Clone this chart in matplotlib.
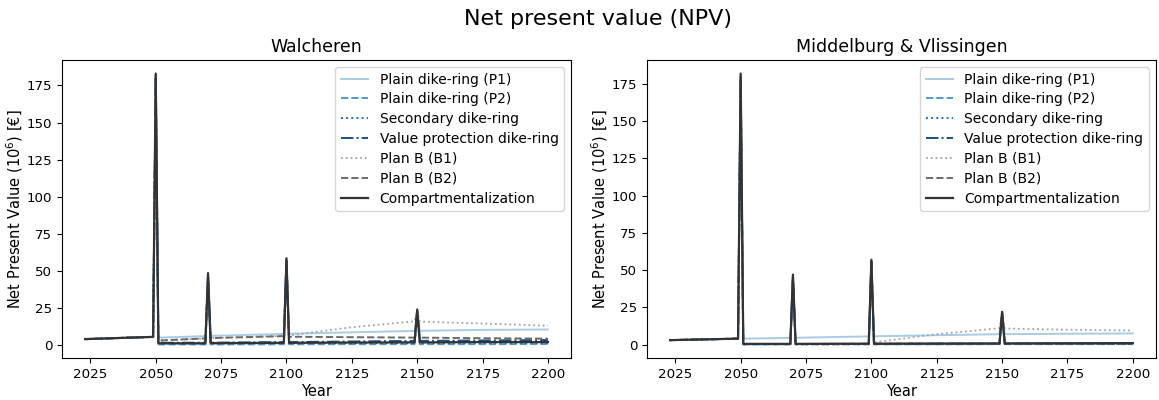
import numpy as np
import matplotlib
matplotlib.use("Agg")
import matplotlib.pyplot as plt

# Stuetzjahre der Zeitreihen (Jahreswerte, Spitzen in Investitionsjahren)
years = [2023, 2049, 2050, 2051, 2069, 2070, 2071, 2099, 2100, 2101,
         2125, 2149, 2150, 2151, 2175, 2200]

labels = ["Plain dike-ring (P1)", "Plain dike-ring (P2)", "Secondary dike-ring",
          "Value protection dike-ring", "Plan B (B1)", "Plan B (B2)",
          "Compartmentalization"]

# Walcheren
w_p1 = [4.0, 5.5, 180, 5.0, 6.0, 46, 6.2, 7.5, 56, 7.6, 8.6, 9.5, 22, 9.6, 10.2, 10.5]
w_p2 = [4.0, 5.5, 178, 0.4, 0.4, 45, 0.4, 0.5, 55, 0.5, 0.6, 0.6, 21, 0.6, 0.6, 0.7]
w_sec = [4.0, 5.5, 179, 1.0, 1.0, 46, 1.0, 1.2, 56, 1.2, 1.3, 1.4, 22, 1.4, 1.5, 1.5]
w_val = [4.0, 5.5, 181, 1.5, 1.6, 47, 1.6, 2.0, 57, 2.0, 2.4, 2.8, 23, 2.8, 3.1, 3.4]
w_b1 = [4.0, 5.5, 182, 3.0, 4.5, 47, 4.7, 6.2, 57, 6.5, 12.0, 16.0, 23, 15.8, 14.5, 13.0]
w_b2 = [4.0, 5.5, 182, 3.0, 4.5, 47, 4.7, 6.0, 57, 5.6, 5.3, 5.0, 23, 5.0, 4.6, 4.3]
w_comp = [4.0, 5.5, 183, 1.2, 1.2, 48.5, 1.3, 1.5, 58.5, 1.5, 1.7, 1.8, 24, 1.8, 2.0, 2.0]

# Middelburg & Vlissingen
m_p1 = [3.0, 4.0, 178, 4.0, 4.5, 45, 4.6, 5.5, 55, 5.6, 6.3, 7.0, 21, 7.0, 7.3, 7.5]
m_p2 = [3.0, 4.0, 177, 0.1, 0.1, 44, 0.1, 0.2, 54, 0.2, 0.2, 0.3, 20, 0.3, 0.3, 0.3]
m_sec = [3.0, 4.0, 178, 0.2, 0.2, 45, 0.2, 0.3, 55, 0.3, 0.3, 0.4, 21, 0.4, 0.4, 0.4]
m_val = [3.0, 4.0, 179, 0.4, 0.4, 46, 0.4, 0.5, 56, 0.5, 0.6, 0.6, 21, 0.6, 0.7, 0.7]
m_b1 = [3.0, 4.0, 180, 0.2, 0.3, 46, 0.3, 0.5, 56, 1.5, 7.0, 11.0, 22, 10.8, 10.0, 9.5]
m_b2 = [3.0, 4.0, 180, 0.4, 0.4, 46, 0.4, 0.6, 56, 0.6, 0.7, 0.7, 22, 0.7, 0.8, 0.8]
m_comp = [3.0, 4.0, 182, 0.5, 0.5, 47, 0.5, 0.6, 57, 0.6, 0.7, 0.8, 22, 0.8, 0.9, 1.0]

farben = ["#a9cbe3", "#5197d0", "#1f72b2", "#1d4f7e", "#a3a3a3", "#6a6a6a", "#333333"]
stile = ["-", "--", ":", "-.", ":", "--", "-"]
breiten = [1.4, 1.4, 1.4, 1.4, 1.3, 1.4, 1.6]

regionen = [
    ("Walcheren", [w_p1, w_p2, w_sec, w_val, w_b1, w_b2, w_comp]),
    ("Middelburg & Vlissingen", [m_p1, m_p2, m_sec, m_val, m_b1, m_b2, m_comp]),
]

fig, axes = plt.subplots(1, 2, figsize=(11.59, 4.0), dpi=100)
fig.subplots_adjust(left=0.0535, right=0.9974, bottom=0.105, top=0.85, wspace=0.149)

for ax, (titel, reihen) in zip(axes, regionen):
    for werte, label, farbe, stil, lw in zip(reihen, labels, farben, stile, breiten):
        ax.plot(years, werte, linestyle=stil, color=farbe, label=label, linewidth=lw)
    ax.set_title(titel, fontsize=12.5)
    ax.set_xlabel("Year", fontsize=10.5, labelpad=2)
    ax.set_ylabel("Net Present Value ($10^6$) [€]", fontsize=10.5, labelpad=1)
    ax.set_xticks([2025, 2050, 2075, 2100, 2125, 2150, 2175, 2200])
    ax.set_yticks([0, 25, 50, 75, 100, 125, 150, 175])
    ax.tick_params(labelsize=9.6)
    ax.legend(loc="upper right", fontsize=10, labelspacing=0.42)

fig.suptitle("Net present value (NPV)", fontsize=16, x=0.516, y=0.978)
fig.savefig("out.png", dpi=100)
